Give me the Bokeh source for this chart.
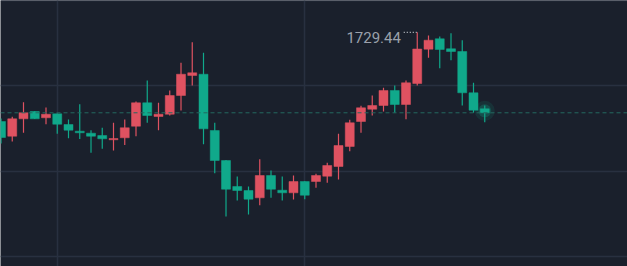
from bokeh.plotting import figure
from bokeh.models import Range1d, Grid, FixedTicker, Span, ColumnDataSource
from bokeh.core.properties import value
from bokeh.embed import file_html
from bokeh.resources import INLINE

opens = [1713.75, 1711.16, 1714.22, 1715.51, 1714.40, 1715.10, 1713.22, 1712.04, 1711.69, 1711.28,
         1710.53, 1710.88, 1712.92, 1717.04, 1714.63, 1715.03, 1718.32, 1721.85, 1722.07, 1712.16,
         1706.88, 1702.30, 1701.60, 1700.31, 1704.24, 1701.65, 1701.19, 1703.18, 1703.18, 1704.12,
         1705.82, 1709.35, 1713.75, 1715.91, 1716.56, 1719.21, 1716.74, 1720.44, 1726.48, 1728.31,
         1726.55, 1726.07, 1718.80, 1715.98]
highs = [1714.28, 1714.57, 1717.15, 1715.56, 1716.21, 1715.16, 1714.10, 1716.79, 1712.22, 1712.64,
         1713.52, 1714.10, 1717.27, 1720.97, 1717.04, 1719.21, 1724.08, 1727.71, 1725.84, 1713.52,
         1706.95, 1704.06, 1702.30, 1707.11, 1705.12, 1704.06, 1704.24, 1703.25, 1704.54, 1706.48,
         1711.58, 1714.05, 1716.51, 1718.32, 1719.68, 1720.09, 1720.97, 1729.44, 1728.89, 1728.71,
         1729.30, 1728.06, 1720.56, 1716.56]
lows = [1709.87, 1710.23, 1711.76, 1714.19, 1713.27, 1711.58, 1710.81, 1710.67, 1708.24, 1708.94,
        1708.64, 1709.61, 1711.16, 1713.52, 1712.22, 1714.80, 1715.68, 1720.09, 1709.75, 1704.64,
        1697.02, 1699.84, 1697.37, 1699.01, 1700.31, 1699.84, 1700.01, 1700.07, 1702.07, 1702.95,
        1703.54, 1708.52, 1711.76, 1714.80, 1715.51, 1715.28, 1714.15, 1720.09, 1724.96, 1723.13,
        1724.54, 1716.56, 1715.28, 1713.62]
closes = [1710.93, 1714.22, 1715.28, 1714.22, 1715.03, 1713.27, 1712.22, 1711.76, 1711.16, 1710.70,
          1710.75, 1712.64, 1717.04, 1714.80, 1715.03, 1718.32, 1722.07, 1722.32, 1712.46, 1706.88,
          1701.83, 1701.60, 1700.07, 1704.24, 1701.83, 1701.19, 1703.18, 1700.77, 1704.24, 1706.00,
          1709.52, 1713.52, 1716.16, 1716.56, 1719.21, 1716.74, 1720.56, 1726.51, 1728.06, 1726.42,
          1726.07, 1718.80, 1715.74, 1715.28]

price_grid = [1690, 1705, 1720, 1735]
index_grid = [5, 27]

UP = "#df5261"
DOWN = "#10a98b"
BG = "#1a202c"
GRID = "#283040"

n = len(opens)
idx = list(range(n))
colors = [UP if c >= o else DOWN for o, c in zip(opens, closes)]
tops = [max(o, c) for o, c in zip(opens, closes)]
bots = [min(o, c) for o, c in zip(opens, closes)]
src = ColumnDataSource(dict(x=idx, o=opens, h=highs, l=lows, c=closes,
                            top=tops, bot=bots, color=colors))

p = figure(width=627, height=266, output_backend="svg", toolbar_location=None,
           x_range=Range1d(-0.0444, 55.689), y_range=Range1d(1688.22, 1735.05),
           x_axis_location=None, y_axis_location=None, min_border=0)
p.background_fill_color = BG
p.border_fill_color = BG
p.outline_line_color = None
p.grid.visible = False

p.add_layout(Grid(dimension=0, ticker=FixedTicker(ticks=index_grid),
                  grid_line_color=GRID, grid_line_width=1.5), "center")
p.add_layout(Grid(dimension=1, ticker=FixedTicker(ticks=price_grid),
                  grid_line_color=GRID, grid_line_width=1.5), "center")

# last price dashed line
p.add_layout(Span(location=closes[-1], dimension="width", line_color="#24675f",
                  line_dash="4 3", line_width=1))

p.segment(x0="x", y0="h", x1="x", y1="l", color="color", line_width=1.2, source=src)
p.vbar(x="x", width=0.8, top="top", bottom="bot", fill_color="color",
       line_color="color", line_width=0.5, source=src)

# glow on last candle
last = n - 1
mid = (opens[last] + closes[last]) / 2
p.scatter([last], [mid], size=20, fill_color=DOWN, fill_alpha=0.12, line_color=None)
p.scatter([last], [mid], size=13, fill_color=DOWN, fill_alpha=0.25, line_color=None)

# max marker
imax = max(range(n), key=lambda i: highs[i])
hmax = highs[imax]
p.segment(x0=[imax - 1.2], y0=[hmax], x1=[imax - 0.05], y1=[hmax],
          line_color="#c8ccd2", line_dash="1 2", line_width=1.2)
p.text(x=[imax - 1.45], y=[hmax - 0.9], text=[f"{hmax:.2f}"],
       text_font=value("Roboto"), text_font_size="15px", text_color="#9ba1ab",
       text_align="right", text_baseline="middle")

open("out.html", "w").write(file_html(p, INLINE))
